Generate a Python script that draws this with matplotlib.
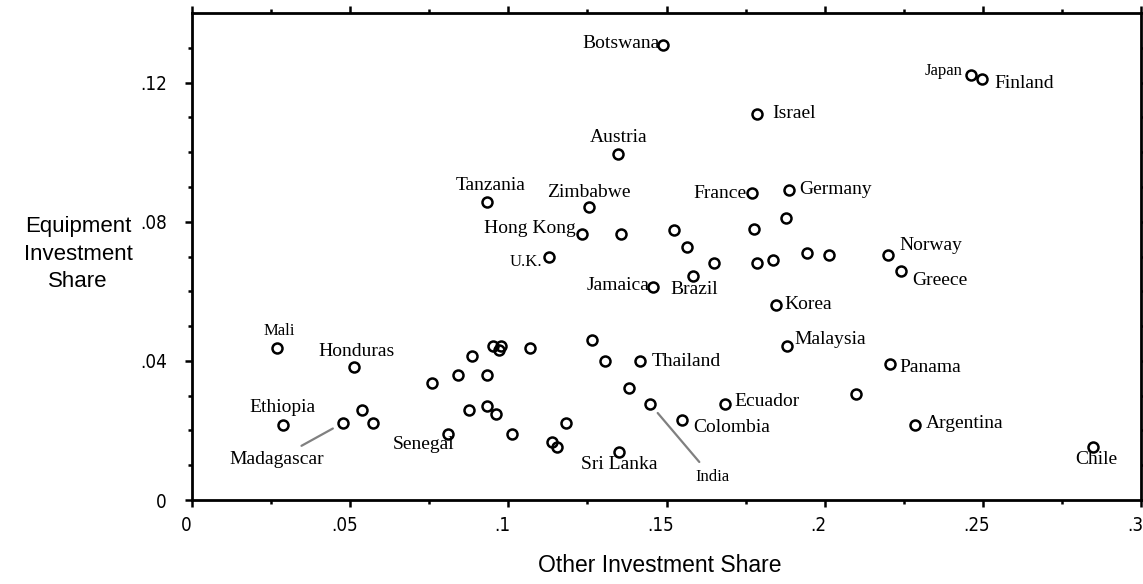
"""
Equipment vs other investment share, open-circle scatter with country labels
"""

import matplotlib
matplotlib.use('Agg')
import matplotlib.pyplot as plt
import matplotlib.transforms as mtransforms
from matplotlib import font_manager
import numpy as np

# other investment share (x) and equipment investment share (y)
other_share = [
    0.1489, 0.2462, 0.2497, 0.1786, 0.1348, 0.0934, 0.1255, 0.1770, 0.1887, 0.1878,
    0.1232, 0.1356, 0.1525, 0.1566, 0.1777, 0.1129, 0.1650, 0.1787, 0.1836, 0.1945,
    0.2014, 0.2199, 0.2241, 0.1585, 0.1458, 0.1845, 0.1880, 0.2207, 0.2099, 0.2284,
    0.2848, 0.1264, 0.1069, 0.0951, 0.0976, 0.0969, 0.1306, 0.1416, 0.0934, 0.1382,
    0.1448, 0.1685, 0.1550, 0.0934, 0.0960, 0.1181, 0.1011, 0.1137, 0.1153, 0.1350,
    0.0268, 0.0513, 0.0287, 0.0478, 0.0538, 0.0571, 0.0760, 0.0842, 0.0884, 0.0808,
    0.0877,
]
equip_share = [
    0.1309, 0.1223, 0.1209, 0.1110, 0.0995, 0.0858, 0.0842, 0.0882, 0.0890, 0.0811,
    0.0766, 0.0766, 0.0775, 0.0727, 0.0780, 0.0700, 0.0681, 0.0681, 0.0689, 0.0711,
    0.0703, 0.0705, 0.0658, 0.0643, 0.0612, 0.0560, 0.0443, 0.0390, 0.0306, 0.0215,
    0.0153, 0.0459, 0.0437, 0.0442, 0.0443, 0.0431, 0.0399, 0.0399, 0.0359, 0.0322,
    0.0276, 0.0276, 0.0230, 0.0270, 0.0246, 0.0222, 0.0191, 0.0167, 0.0153, 0.0139,
    0.0436, 0.0383, 0.0215, 0.0222, 0.0260, 0.0222, 0.0337, 0.0359, 0.0413, 0.0191,
    0.0260,
]
countries = [
    'Botswana', 'Japan', 'Finland', 'Israel', 'Austria', 'Tanzania', 'Zimbabwe', 'France', 'Germany', '',
    'Hong Kong', '', '', '', '', 'U.K.', '', '', '', '',
    '', 'Norway', 'Greece', 'Brazil', 'Jamaica', 'Korea', 'Malaysia', 'Panama', '', 'Argentina',
    'Chile', '', '', '', '', '', '', 'Thailand', '', '',
    'India', 'Ecuador', 'Colombia', '', '', '', '', '', '', 'Sri Lanka',
    'Mali', 'Honduras', 'Ethiopia', 'Madagascar', '', '', '', '', '', 'Senegal',
    '',
]

x_ticks = [0, 0.05, 0.1, 0.15, 0.2, 0.25, 0.3]
x_tick_labels = ['0', '.05', '.1', '.15', '.2', '.25', '.3']
y_ticks = [0, 0.04, 0.08, 0.12]
y_tick_labels = ['0', '.04', '.08', '.12']

# label placement: (dx, dy) in pixels from the point, horizontal alignment
label_pos = {
    'Botswana': (-3, 1, 'right'), 'Japan': (-8, 4, 'right'), 'Finland': (13, -4, 'left'),
    'Israel': (15, 0, 'left'), 'Austria': (0, 16, 'center'), 'Tanzania': (3, 16, 'center'),
    'Zimbabwe': (0, 15, 'center'), 'France': (-5, 0, 'right'), 'Germany': (10, 1, 'left'),
    'Hong Kong': (-6, 5, 'right'), 'U.K.': (-7, -6, 'right'), 'Norway': (12, 9, 'left'),
    'Greece': (11, -9, 'left'), 'Jamaica': (-4, 2, 'right'), 'Brazil': (1, -13, 'center'),
    'Korea': (9, 1, 'left'), 'Malaysia': (8, 6, 'left'), 'Thailand': (12, 0, 'left'),
    'Panama': (9, -3, 'left'), 'Ecuador': (9, 2, 'left'), 'Colombia': (11, -8, 'left'),
    'Argentina': (11, 2, 'left'), 'Chile': (3, -13, 'center'), 'Sri Lanka': (0, -13, 'center'),
    'Mali': (2, 17, 'center'), 'Honduras': (2, 15, 'center'), 'Ethiopia': (0, 18, 'center'),
    'Senegal': (-24, -11, 'center'),
}
# labels tied to their point with a grey leader line
leader_pos = {'India': (62, -73), 'Madagascar': (-67, -37)}
small_labels = {'Japan', 'Mali', 'U.K.', 'India'}

fonts = font_manager.fontManager.ttflist
available = {f.name for f in fonts}
condensed = [f.name for f in fonts if 'condensed' in str(f.stretch) or 'Narrow' in f.name
             or 'Condensed' in f.name]
if 'Liberation Sans Narrow' in available:
    tick_font, tick_stretch, tick_size = 'Liberation Sans Narrow', 'normal', 15
elif any(f.name == 'DejaVu Sans' and 'condensed' in str(f.stretch) for f in fonts):
    tick_font, tick_stretch, tick_size = 'DejaVu Sans', 'condensed', 13.5
else:
    tick_font, tick_stretch, tick_size = 'DejaVu Sans', 'normal', 12.5
label_font = 'Liberation Serif' if 'Liberation Serif' in available else 'DejaVu Serif'
axis_font = 'Liberation Sans' if 'Liberation Sans' in available else 'DejaVu Sans'

fig = plt.figure(figsize=(11.43, 5.84), dpi=100)
ax = fig.add_axes([192 / 1143, 84 / 584, 949 / 1143, 487 / 584])

ax.plot(other_share, equip_share, linestyle='none', marker='o', markersize=7.2,
        markerfacecolor='none', markeredgecolor='black', markeredgewidth=1.8,
        clip_on=False, zorder=3)

for x, y, name in zip(other_share, equip_share, countries):
    if not name:
        continue
    size = 12 if name in small_labels else 14
    if name in leader_pos:
        dx, dy = leader_pos[name]
        ax.annotate(name, (x, y), xytext=(dx, dy), textcoords='offset pixels',
                    ha='center', va='center', family=label_font, fontsize=size,
                    arrowprops=dict(arrowstyle='-', color='#808080', lw=1.6,
                                    shrinkA=4, shrinkB=8.5))
    else:
        dx, dy, ha = label_pos[name]
        ax.annotate(name, (x, y), xytext=(dx, dy), textcoords='offset pixels',
                    ha=ha, va='center', family=label_font, fontsize=size)

ax.set_xlim(0, 0.3)
ax.set_ylim(0, 0.14)
ax.set_xticks(x_ticks)
ax.set_xticklabels(x_tick_labels, family=tick_font, fontstretch=tick_stretch, fontsize=tick_size)
ax.set_xticks(np.arange(0.025, 0.3, 0.05), minor=True)
ax.set_yticks(y_ticks)
ax.set_yticklabels(y_tick_labels, family=tick_font, fontstretch=tick_stretch, fontsize=tick_size)
ax.set_yticks([v / 100 for v in range(1, 14) if v % 4 != 0], minor=True)

for side in ax.spines:
    ax.spines[side].set_linewidth(2.0)
ax.tick_params(which='both', direction='out', top=True, right=True, width=1.8)
ax.tick_params(which='major', length=5)
ax.tick_params(which='minor', length=3)
ax.tick_params(axis='x', pad=6.5)
ax.tick_params(axis='y', pad=13)

# x tick labels sit a little left of their ticks in the original
shift = mtransforms.ScaledTranslation(-6 / 100, 0, fig.dpi_scale_trans)
for lab in ax.get_xticklabels():
    lab.set_transform(lab.get_transform() + shift)

fig.text(78 / 1143, 1 - 254 / 584, 'Equipment\nInvestment\nShare', ha='center', va='center',
         family=axis_font, fontsize=16, linespacing=1.42)
fig.text(660 / 1143, 1 - 566 / 584, 'Other Investment Share', ha='center', va='center',
         family=axis_font, fontsize=16.5)

fig.savefig('out.png', dpi=100)
